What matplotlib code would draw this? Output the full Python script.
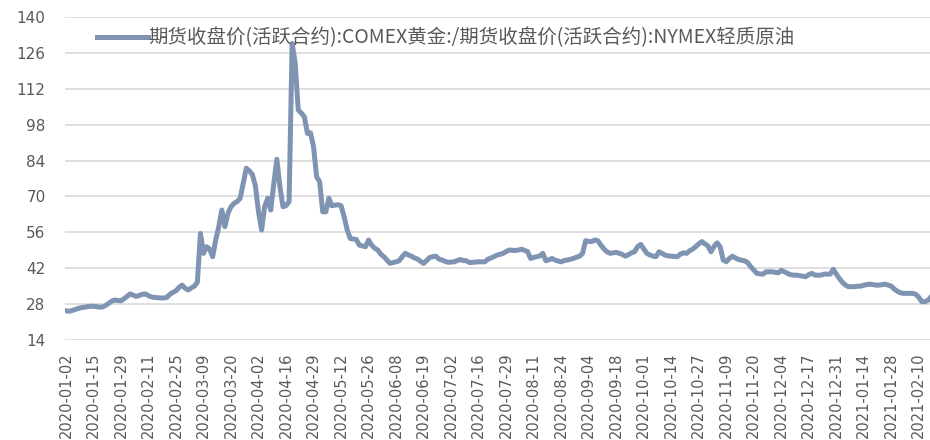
import numpy as np
import matplotlib
matplotlib.use("Agg")
import matplotlib.pyplot as plt

plt.rcParams['font.family'] = ['DejaVu Sans', 'Noto Sans CJK SC']

# 期货收盘价 黄金/原油 比值，按交易日排列
ratio = [
    25.4, 25.2, 25.5, 25.9, 26.3, 26.6, 26.8, 27.0, 27.1, 27.2,
    27.0, 26.8, 26.9, 27.5, 28.3, 29.2, 29.6, 29.4, 29.3, 30.1,
    31.0, 32.0, 31.5, 31.0, 31.4, 31.8, 32.0, 31.3, 30.8, 30.6,
    30.5, 30.4, 30.4, 30.6, 31.8, 32.6, 33.2, 34.5, 35.4, 34.2,
    33.5, 34.3, 35.0, 36.5, 55.6, 47.8, 50.4, 49.5, 46.5, 53.0,
    58.2, 64.7, 58.2, 63.4, 66.0, 67.3, 68.0, 69.3, 75.1, 81.0,
    80.0, 78.5, 74.0, 64.0, 56.9, 66.0, 69.3, 64.7, 75.0, 84.5,
    73.8, 66.0, 66.4, 68.0, 129.7, 121.9, 103.7, 102.5, 101.1, 94.6,
    94.8, 89.4, 77.7, 75.7, 64.0, 64.0, 69.3, 66.4, 66.6, 66.8,
    66.4, 62.1, 57.0, 53.6, 53.4, 53.2, 51.0, 50.7, 50.4, 53.0,
    51.0, 49.8, 49.1, 47.5, 46.5, 45.2, 43.9, 44.2, 44.5, 44.9,
    46.5, 47.8, 47.2, 46.7, 46.0, 45.6, 44.7, 43.9, 45.0, 46.2,
    46.5, 46.7, 45.6, 45.2, 44.7, 44.3, 44.4, 44.5, 45.0, 45.4,
    45.0, 44.9, 44.2, 44.3, 44.4, 44.5, 44.5, 44.5, 45.5, 46.0,
    46.5, 47.1, 47.4, 47.8, 48.5, 49.1, 49.0, 48.9, 49.1, 49.4,
    49.0, 48.5, 45.8, 46.2, 46.5, 46.8, 47.8, 44.9, 45.3, 45.8,
    45.2, 44.8, 44.5, 45.0, 45.2, 45.5, 45.8, 46.3, 46.7, 47.8,
    52.7, 52.5, 52.4, 53.0, 52.7, 51.0, 49.5, 48.4, 47.8, 48.0,
    48.2, 47.8, 47.4, 46.7, 47.3, 48.0, 48.4, 50.4, 51.3, 49.6,
    47.8, 47.2, 46.7, 46.5, 48.4, 47.8, 47.1, 46.8, 46.7, 46.6,
    46.5, 47.5, 48.0, 47.8, 48.8, 49.4, 50.4, 51.5, 52.4, 51.5,
    50.7, 48.4, 50.5, 51.9, 50.4, 45.2, 44.5, 45.8, 46.7, 46.0,
    45.4, 45.1, 44.9, 44.2, 42.6, 41.3, 40.0, 39.8, 39.7, 40.6,
    40.6, 40.6, 40.4, 40.2, 41.2, 40.6, 40.0, 39.5, 39.3, 39.3,
    39.1, 38.9, 38.7, 39.5, 40.0, 39.3, 39.3, 39.3, 39.7, 39.7,
    39.7, 41.6, 39.7, 38.0, 36.5, 35.4, 34.8, 34.8, 34.8, 35.0,
    35.0, 35.4, 35.6, 35.8, 35.6, 35.4, 35.4, 35.6, 35.8, 35.4,
    35.0, 33.8, 33.0, 32.4, 32.2, 32.2, 32.2, 32.2, 31.8, 30.6,
    28.9, 29.0, 29.5, 30.9,
]

# 每9个交易日一个标签
tick_labels = [
    '2020-01-02', '2020-01-15', '2020-01-29', '2020-02-11', '2020-02-25',
    '2020-03-09', '2020-03-20', '2020-04-02', '2020-04-16', '2020-04-29',
    '2020-05-12', '2020-05-26', '2020-06-08', '2020-06-19', '2020-07-02',
    '2020-07-16', '2020-07-29', '2020-08-11', '2020-08-24', '2020-09-04',
    '2020-09-18', '2020-10-01', '2020-10-14', '2020-10-27', '2020-11-09',
    '2020-11-20', '2020-12-04', '2020-12-17', '2020-12-31', '2021-01-14',
    '2021-01-28', '2021-02-10',
]
y_ticks = [14, 28, 42, 56, 70, 84, 98, 112, 126, 140]
series_name = '期货收盘价(活跃合约):COMEX黄金:/期货收盘价(活跃合约):NYMEX轻质原油'

line_color = '#7f94b2'
text_color = '#595959'

fig = plt.figure(figsize=(9.3, 4.4), dpi=100)
ax = fig.add_axes([65/930, 100/440, 867/930, 323/440])

x = np.arange(len(ratio))
ax.plot(x, ratio, color=line_color, lw=3.6, solid_joinstyle='round', label=series_name)

ax.set_ylim(14, 140)
ax.set_yticks(y_ticks)
ax.set_xlim(-0.3, len(ratio) - 0.7)
ax.set_xticks(np.arange(0, len(ratio), 9)[:len(tick_labels)])
ax.set_xticklabels(tick_labels, rotation=90)

ax.grid(axis='y', color='#d9d9d9', lw=1.2)
ax.set_axisbelow(True)
for s in ax.spines.values():
    s.set_visible(False)
ax.tick_params(axis='y', length=0, pad=14, labelsize=11, labelcolor=text_color)
ax.tick_params(axis='x', length=0, pad=9, labelsize=10.5, labelcolor=text_color)

leg = ax.legend(loc='center left', bbox_to_anchor=(97/930, 1 - 38/440),
                bbox_transform=fig.transFigure, frameon=False, borderpad=0,
                borderaxespad=0, handlelength=2.6, handletextpad=0.05,
                prop={'family': ['Noto Sans CJK SC', 'DejaVu Sans'], 'size': 14})
for t in leg.get_texts():
    t.set_color(text_color)

fig.savefig('out.png', dpi=100)
